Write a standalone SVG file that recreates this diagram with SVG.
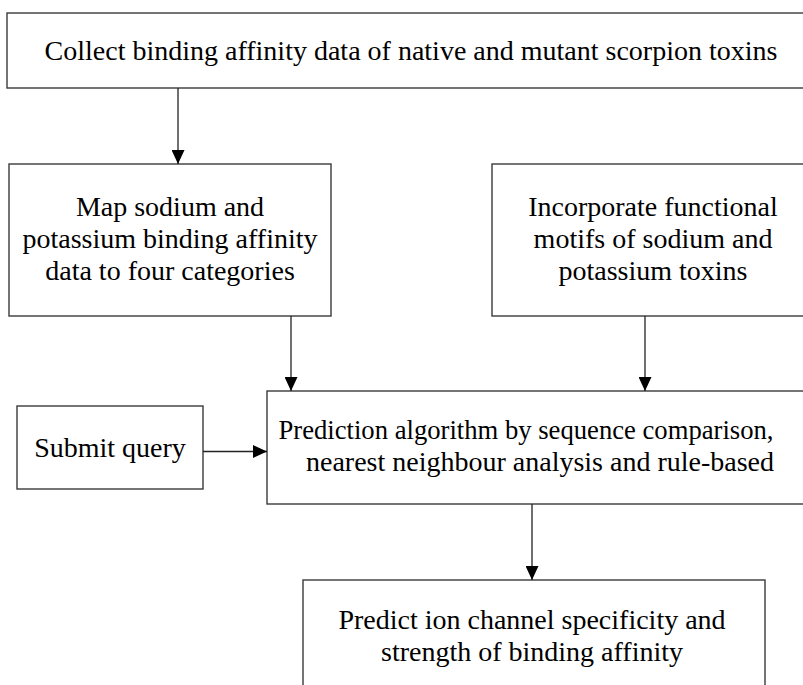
<svg xmlns="http://www.w3.org/2000/svg" width="803" height="685" viewBox="0 0 803 685">
<style>
.box{fill:#fff;stroke:#3a3a3a;stroke-width:1.4}
.t{font-family:"Liberation Serif","Times New Roman",serif;font-size:28px;fill:#000;text-anchor:middle}
.c{stroke:#222;stroke-width:1.3;fill:none;marker-end:url(#ah)}
</style>
<defs>
<marker id="ah" markerUnits="userSpaceOnUse" markerWidth="14" markerHeight="13" refX="14" refY="6.5" orient="auto">
<path d="M0,0 L14,6.5 L0,13 z" fill="#000"/>
</marker>
</defs>
<rect width="803" height="685" fill="#fff"/>
<g id="collect">
<rect class="box" x="7" y="13" width="810" height="75"/>
<text class="t" x="411" y="60">Collect binding affinity data of native and mutant scorpion toxins</text>
</g>
<g id="map">
<rect class="box" x="9" y="164" width="322" height="152"/>
<text class="t" x="170" y="216">Map sodium and</text>
<text class="t" x="170" y="248">potassium binding affinity</text>
<text class="t" x="170" y="280">data to four categories</text>
</g>
<g id="incorporate">
<rect class="box" x="492" y="164" width="330" height="152"/>
<text class="t" x="653" y="216">Incorporate functional</text>
<text class="t" x="653" y="248">motifs of sodium and</text>
<text class="t" x="653" y="280">potassium toxins</text>
</g>
<g id="submit">
<rect class="box" x="17" y="406" width="186" height="83"/>
<text class="t" x="110" y="457">Submit query</text>
</g>
<g id="prediction">
<rect class="box" x="267" y="391" width="560" height="113"/>
<text class="t" x="526" y="439" textLength="495" lengthAdjust="spacingAndGlyphs">Prediction algorithm by sequence comparison,</text>
<text class="t" x="540" y="471">nearest neighbour analysis and rule-based</text>
</g>
<g id="predict">
<rect class="box" x="303" y="580" width="462" height="130"/>
<text class="t" x="532" y="629">Predict ion channel specificity and</text>
<text class="t" x="532" y="661">strength of binding affinity</text>
</g>
<g id="connectors">
<line class="c" x1="178" y1="88" x2="178" y2="164"/>
<line class="c" x1="291" y1="316" x2="291" y2="391"/>
<line class="c" x1="645" y1="316" x2="645" y2="391"/>
<line class="c" x1="203" y1="451.5" x2="267" y2="451.5"/>
<line class="c" x1="532" y1="504" x2="532" y2="580"/>
</g>
</svg>
